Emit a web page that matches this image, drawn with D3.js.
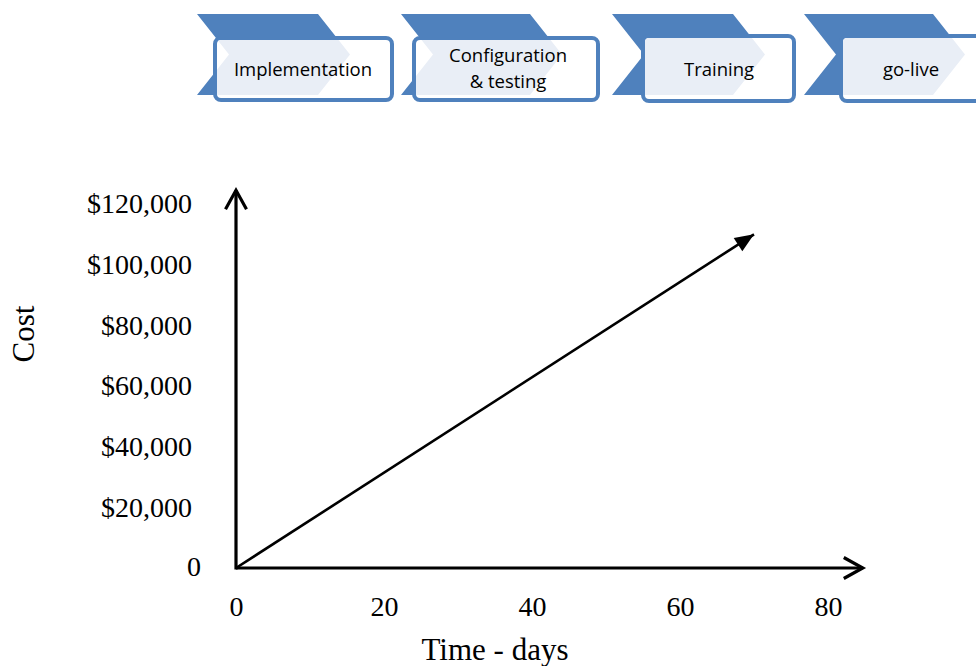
<!DOCTYPE html>
<html>
<head>
<meta charset="utf-8">
<script src="https://cdn.jsdelivr.net/npm/d3@7"></script>
<style>
  body { margin: 0; background: #fff; }
  svg { display: block; }
  .tick text { font-family: "Liberation Serif", "Times New Roman", serif; font-size: 28px; fill: #000; }
  .axisText { font-family: "Liberation Serif", "Times New Roman", serif; font-size: 31px; fill: #000; }
  .stageText { font-family: "Open Sans", sans-serif; font-size: 18.5px; fill: #000; }
</style>
</head>
<body>
<div id="chart"></div>
<script>
// data
var stages = [["Implementation"], ["Configuration", "& testing"], ["Training"], ["go-live"]];
var xTicks = [0, 20, 40, 60, 80];
var yTicks = [0, 20000, 40000, 60000, 80000, 100000, 120000];
var costDays = [0, 70];
var costValues = [0, 110000];
var xAxisEnd = 84.7;    // days, where the axis arrow stops
var yAxisEnd = 124500;  // cost, where the axis arrow stops

// banner layout (chevron left/right at top, box left/right)
var bannerLayout = [
  {cl: 197, cr: 318, bx: 215, bw: 177, by: 38, bh: 62, tx: 303},
  {cl: 401, cr: 530, bx: 414, bw: 184, by: 38, bh: 62, tx: 508},
  {cl: 612, cr: 733, bx: 643, bw: 151, by: 36, bh: 65, tx: 719},
  {cl: 804, cr: 933, bx: 841, bw: 160, by: 36, bh: 65, tx: 911}
];

var svgWidth = 976;
var svgHeight = 666;
var blue = "#4f81bd";
var light = "#e9eef6";

var svg = d3.select("#chart").append("svg")
    .attr("width", svgWidth)
    .attr("height", svgHeight);

var defs = svg.append("defs");

// banner
var chevTop = 14, chevBot = 95, depth = 32;
var chevMid = (chevTop + chevBot) / 2;
function chevron(l, r) {
  return "M" + l + "," + chevTop + " L" + r + "," + chevTop +
    " L" + (r + depth) + "," + chevMid + " L" + r + "," + chevBot +
    " L" + l + "," + chevBot + " L" + (l + depth) + "," + chevMid + "Z";
}

var banner = svg.append("g");
bannerLayout.forEach(function(b, i) {
  var g = banner.append("g");
  g.append("path")
    .attr("d", chevron(b.cl, b.cr))
    .attr("fill", blue);
  defs.append("clipPath").attr("id", "clip" + i)
    .append("rect")
    .attr("x", b.bx + 2).attr("y", b.by + 2)
    .attr("width", b.bw - 4).attr("height", b.bh - 4)
    .attr("rx", 4);
  g.append("rect")
    .attr("x", b.bx).attr("y", b.by)
    .attr("width", b.bw).attr("height", b.bh)
    .attr("rx", 6)
    .attr("fill", "#fff")
    .attr("stroke", blue)
    .attr("stroke-width", 4);
  g.append("path")
    .attr("d", chevron(b.cl, b.cr))
    .attr("fill", light)
    .attr("clip-path", "url(#clip" + i + ")");

  var lines = stages[i];
  var t = g.append("text")
    .attr("class", "stageText")
    .attr("text-anchor", "middle")
    .attr("x", b.tx)
    .attr("y", lines.length == 1 ? 76 : 62);
  lines.forEach(function(s, j) {
    t.append("tspan").attr("x", b.tx).attr("dy", j == 0 ? 0 : 26).text(s);
  });
});

// chart scales
var xScale = d3.scaleLinear().domain([0, 80]).range([236, 828]);
var yScale = d3.scaleLinear().domain([0, 120000]).range([568, 204]);

// markers
defs.append("marker")
    .attr("id", "openArrow")
    .attr("markerUnits", "userSpaceOnUse")
    .attr("viewBox", "-22 -13 26 26")
    .attr("markerWidth", 26).attr("markerHeight", 26)
    .attr("refX", 0).attr("refY", 0)
    .attr("orient", "auto")
  .append("path")
    .attr("d", "M-19,-10.5 L0,0 L-19,10.5")
    .attr("fill", "none")
    .attr("stroke", "#000")
    .attr("stroke-width", 3.2)
    .attr("stroke-linejoin", "miter");

defs.append("marker")
    .attr("id", "solidArrow")
    .attr("markerUnits", "userSpaceOnUse")
    .attr("viewBox", "-20 -10 22 20")
    .attr("markerWidth", 22).attr("markerHeight", 20)
    .attr("refX", 0).attr("refY", 0)
    .attr("orient", "auto")
  .append("path")
    .attr("d", "M-19,-8 L0,0 L-19,8 Z")
    .attr("fill", "#000");

// axes (labels only)
var bottomAxis = d3.axisBottom(xScale)
    .tickValues(xTicks)
    .tickSize(0)
    .tickPadding(28);
var leftAxis = d3.axisLeft(yScale)
    .tickValues(yTicks)
    .tickSize(0)
    .tickPadding(44)
    .tickFormat(function(d) { return d == 0 ? "0" : "$" + d3.format(",")(d); });

var xAxisG = svg.append("g")
    .attr("transform", "translate(0," + yScale(0) + ")")
    .call(bottomAxis);
xAxisG.select(".domain").remove();

var yAxisG = svg.append("g")
    .attr("transform", "translate(" + xScale(0) + ",0)")
    .call(leftAxis);
yAxisG.select(".domain").remove();
yAxisG.selectAll(".tick text").filter(function(d) { return d == 0; })
    .attr("dx", 9).attr("dy", "0.25em");

// axis lines with arrows
svg.append("line")
    .attr("x1", xScale(0)).attr("y1", yScale(0))
    .attr("x2", xScale(xAxisEnd)).attr("y2", yScale(0))
    .attr("stroke", "#000").attr("stroke-width", 3.2)
    .attr("marker-end", "url(#openArrow)");
svg.append("line")
    .attr("x1", xScale(0)).attr("y1", yScale(0) + 1.5)
    .attr("x2", xScale(0)).attr("y2", yScale(yAxisEnd))
    .attr("stroke", "#000").attr("stroke-width", 3.2)
    .attr("marker-end", "url(#openArrow)");

// cost line
var line = d3.line()
    .x(function(d, i) { return xScale(costDays[i]); })
    .y(function(d) { return yScale(d); });
svg.append("path")
    .datum(costValues)
    .attr("d", line)
    .attr("fill", "none")
    .attr("stroke", "#000")
    .attr("stroke-width", 2.6)
    .attr("marker-end", "url(#solidArrow)");

// axes titles
svg.append("text")
    .attr("class", "axisText")
    .attr("text-anchor", "middle")
    .attr("x", 495).attr("y", 660)
    .text("Time - days");

svg.append("text")
    .attr("class", "axisText")
    .attr("text-anchor", "middle")
    .attr("transform", "translate(34,334) rotate(-90)")
    .text("Cost");
</script>
</body>
</html>
